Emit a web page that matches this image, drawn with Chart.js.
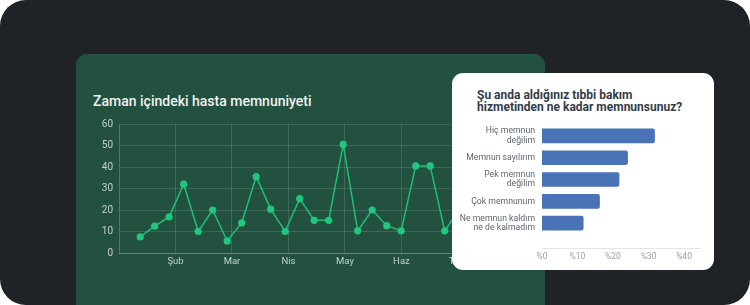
<!DOCTYPE html>
<html>
<head>
<meta charset="utf-8">
<script src="https://cdn.jsdelivr.net/npm/chart.js@4.4.1/dist/chart.umd.min.js"></script>
<style>
  html, body { margin: 0; padding: 0; background: #ffffff; }
  #frame {
    position: relative; width: 750px; height: 305px; overflow: hidden;
    background: #1f2226; border-radius: 26px;
    font-family: Roboto, "Noto Sans", sans-serif;
  }
  #greenCard {
    position: absolute; left: 76px; top: 54px; width: 469px; height: 280px;
    background: #22513f; border-radius: 11px;
  }
  #greenCard h2 {
    position: absolute; left: 17px; top: 40px; margin: 0;
    font-size: 14px; line-height: 14px; font-weight: 500; color: #eef3ef;
    white-space: nowrap;
  }
  #lineChart { position: absolute; left: 17px; top: 58px; }
  #whiteCard {
    position: absolute; left: 452px; top: 73px; width: 262px; height: 197px;
    background: #ffffff; border-radius: 11px;
  }
  #whiteCard h3 {
    position: absolute; left: 25px; top: 17px; margin: 0;
    font-size: 12px; line-height: 11.7px; font-weight: 700; color: #333d47;
    white-space: nowrap;
  }
  #barChart { position: absolute; left: 0; top: 42px; }
</style>
</head>
<body>
<div id="frame">
  <div id="greenCard">
    <h2>Zaman içindeki hasta memnuniyeti</h2>
    <canvas id="lineChart" width="440" height="160"></canvas>
  </div>
  <div id="whiteCard">
    <h3>Şu anda aldığınız tıbbi bakım<br>hizmetinden ne kadar memnunsunuz?</h3>
    <canvas id="barChart" width="262" height="151"></canvas>
  </div>
</div>
<script>
// weekly satisfaction score (last few sit behind the survey card)
const satisfaction = [7.5, 12.5, 16.8, 32, 10, 20, 5.6, 14, 35.5, 20.4, 10, 25.3, 15.2, 15.2,
                      50.5, 10.3, 20, 12.7, 10.3, 40.5, 40.5, 10.3, 20, 28, 18, 22, 15];
// position of each weekly reading, in months from start of January
const weekStart = 0.375;
const weekLength = 0.2567;
const monthTicks = [1, 2, 3, 4, 5, 6, 7];
const monthLabels = ['Şub', 'Mar', 'Nis', 'May', 'Haz', 'Tem', 'Ağu'];

const answers = [
    ['Hiç memnun', 'değilim'],
    ['Memnun sayılırım'],
    ['Pek memnun', 'değilim'],
    ['Çok memnunum'],
    ['Ne memnun kaldım', 'ne de kalmadım']
];
const answerShare = [31.7, 24.1, 21.7, 16.2, 11.6];
const shareTicks = [0, 10, 20, 30, 40];

let linePoints = satisfaction.map((v, i) => ({ x: weekStart + i * weekLength, y: v }));

let lineCtx = document.getElementById('lineChart').getContext('2d');
let lineChart = new Chart(lineCtx, {
    type: 'line',
    data: {
        datasets: [{
            data: linePoints,
            borderColor: '#1fbf78',
            backgroundColor: '#1fbf78',
            pointBackgroundColor: '#22c67d',
            pointBorderWidth: 0,
            pointRadius: 3.6,
            borderWidth: 1.5,
            tension: 0
        }]
    },
    options: {
        responsive: false,
        animation: false,
        layout: { padding: { top: 10, right: 0, left: 0, bottom: 0 } },
        plugins: { legend: { display: false }, tooltip: { enabled: false } },
        scales: {
            x: {
                type: 'linear', min: 0, max: 7.258,
                afterBuildTicks: (scale) => { scale.ticks = monthTicks.map(v => ({ value: v })); },
                afterFit: (scale) => { scale.height = 19; scale.paddingRight = 0; },
                ticks: {
                    callback: (v) => monthLabels[monthTicks.indexOf(v)],
                    color: '#c5d2ca', font: { family: 'Roboto', size: 9.5 }, padding: 3,
                    maxRotation: 0
                },
                grid: { color: 'rgba(255,255,255,0.13)', drawTicks: false },
                border: { color: 'rgba(255,255,255,0.22)' }
            },
            y: {
                min: 0, max: 60,
                afterFit: (scale) => { scale.width = 26; },
                ticks: {
                    stepSize: 10, color: '#c5d2ca', font: { family: 'Roboto', size: 10 }, padding: 6
                },
                grid: { color: 'rgba(255,255,255,0.13)', drawTicks: false },
                border: { color: 'rgba(255,255,255,0.22)' }
            }
        }
    }
});

let barCtx = document.getElementById('barChart').getContext('2d');
let barChart = new Chart(barCtx, {
    type: 'bar',
    data: {
        datasets: [{
            data: answerShare.map((v, i) => ({ x: v, y: i })),
            backgroundColor: '#4a72b6',
            borderRadius: 2,
            barThickness: 14
        }]
    },
    options: {
        indexAxis: 'y',
        responsive: false,
        animation: false,
        layout: { padding: { top: 10, right: 14, left: 0, bottom: 0 } },
        plugins: { legend: { display: false }, tooltip: { enabled: false } },
        scales: {
            x: {
                min: 0, max: 44.5,
                afterBuildTicks: (scale) => { scale.ticks = shareTicks.map(v => ({ value: v })); },
                afterFit: (scale) => { scale.height = 18; scale.paddingLeft = 0; scale.paddingRight = 0; },
                ticks: {
                    callback: (v) => '%' + v,
                    color: '#9aa0a7', font: { family: 'Roboto', size: 8.5 }, padding: 4,
                    maxRotation: 0
                },
                grid: { display: false, drawTicks: false },
                border: { color: '#e2e5e9' }
            },
            y: {
                type: 'linear', reverse: true, min: -0.5, max: 5.14, offset: false,
                afterBuildTicks: (scale) => { scale.ticks = answers.map((a, i) => ({ value: i })); },
                afterFit: (scale) => { scale.width = 90; scale.paddingTop = 0; scale.paddingBottom = 0; },
                ticks: {
                    callback: (v) => answers[v],
                    color: '#5f666e', font: { family: 'Roboto', size: 8.7, lineHeight: 1.1 }, padding: 7
                },
                grid: { display: false, drawTicks: false, offset: false },
                border: { display: false }
            }
        }
    }
});
</script>
</body>
</html>
